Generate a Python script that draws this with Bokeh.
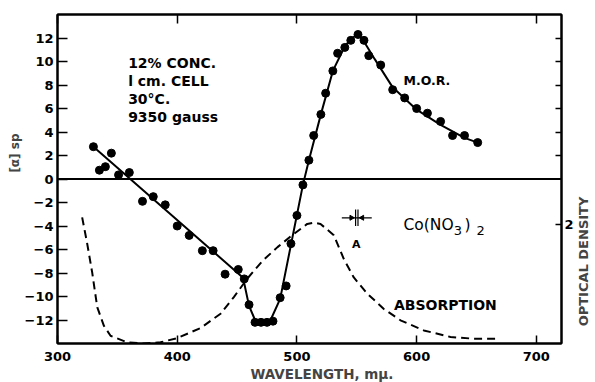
import math
from bokeh.plotting import figure
from bokeh.layouts import row
from bokeh.models import (Range1d, LinearAxis, FixedTicker, CustomJSTickFormatter,
                          Span, Label, Title)
from bokeh.embed import file_html
from bokeh.resources import INLINE

# ---------------- data ----------------
mor_wavelength = [330, 335, 340, 345, 351, 360, 371, 380, 390, 400, 410, 421, 430,
                  440, 451, 456, 460, 465, 470, 475, 480, 486, 491, 495, 500, 505,
                  510, 514, 520, 524, 530, 534, 540, 545, 551, 556, 560, 570, 580,
                  590, 600, 609, 620, 630, 640, 651]
mor_rotation = [2.75, 0.75, 1.05, 2.2, 0.35, 0.55, -1.9, -1.5, -2.2, -4.0, -4.8, -6.1,
                -6.1, -8.1, -7.7, -8.5, -10.7, -12.2, -12.2, -12.2, -12.1, -10.1, -9.1,
                -5.5, -3.1, -0.5, 1.6, 3.7, 5.5, 7.3, 9.2, 10.7, 11.2, 11.8, 12.3, 11.8,
                10.5, 9.7, 7.6, 6.9, 6.0, 5.6, 4.9, 3.7, 3.7, 3.1]

fit_wavelength = [330, 455, 460, 465, 478, 486, 505, 510, 520, 530, 540, 546, 551,
                  556, 565, 580, 600, 620, 640, 651]
fit_rotation = [2.75, -8.4, -10.8, -12.0, -12.0, -10.2, -0.5, 1.6, 5.5, 9.2, 11.3,
                12.0, 12.3, 11.7, 10.2, 7.8, 5.9, 4.6, 3.5, 3.1]

abs_wavelength = [320.6, 324.8, 329, 333.2, 338.7, 344.3, 358.2, 372.1, 386, 400,
                  419.5, 436.2, 447.3, 458.5, 471.3, 483.8, 496, 508.6, 513.9, 519.7,
                  530.8, 539.2, 547.5, 558.7, 572.6, 586.5, 606, 628.3, 647.8, 667.3]
abs_density = [2.12, 1.68, 1.19, 0.61, 0.30, 0.13, 0.02, 0.0, 0.02, 0.09, 0.26, 0.50,
               0.78, 1.09, 1.39, 1.62, 1.82, 2.01, 2.03, 2.01, 1.82, 1.42, 1.11, 0.84,
               0.58, 0.39, 0.22, 0.11, 0.08, 0.08]

marker_wavelength = [550]
marker_rotation = [-3.3]

x_ticks = [300, 400, 500, 600, 700]
y_ticks = [-12, -10, -8, -6, -4, -2, 0, 2, 4, 6, 8, 10, 12]
od_ticks = [2]
right_mirror_ticks = [2, 4, 6, 8, 10, 12]

notes = ["12% CONC.", "l cm. CELL", "30°C.", "9350 gauss"]

X_RANGE = (300, 721)
Y_RANGE = (-14, 14)
OD_RANGE = (0, 5.53)

FONT = "DejaVu Sans"
SIDE_W = 18   # width of the strip that carries the right-hand title

# ---------------- figure ----------------
p = figure(width=595 - SIDE_W, height=382, x_range=Range1d(*X_RANGE), y_range=Range1d(*Y_RANGE),
           output_backend="svg", toolbar_location=None,
           min_border_left=57, min_border_right=34 - SIDE_W, min_border_top=14,
           min_border_bottom=39,
           background_fill_color="white", border_fill_color="white",
           x_axis_type=None, y_axis_type=None)
p.extra_y_ranges = {"od": Range1d(*OD_RANGE)}
p.outline_line_color = "black"
p.outline_line_width = 2


def style_axis(ax, tick_len=9):
    ax.axis_line_width = 2
    ax.axis_line_color = "black"
    ax.major_tick_in = tick_len
    ax.major_tick_out = 0
    ax.major_tick_line_width = 1.5
    ax.minor_tick_in = 0
    ax.minor_tick_out = 0
    ax.major_label_text_font = FONT
    ax.major_label_text_font_style = "bold"
    ax.major_label_text_font_size = "13px"
    ax.major_label_text_color = "black"


xb = LinearAxis(ticker=FixedTicker(ticks=x_ticks))
style_axis(xb, 8)
xb.major_label_standoff = 8
p.add_layout(xb, "below")

xt = LinearAxis(ticker=FixedTicker(ticks=x_ticks),
                formatter=CustomJSTickFormatter(code="return ''"))
style_axis(xt, 9)
xt.major_label_standoff = 0
p.add_layout(xt, "above")

yl = LinearAxis(ticker=FixedTicker(ticks=y_ticks))
style_axis(yl, 10)
yl.major_label_standoff = 4
p.add_layout(yl, "left")

# right axis: optical density (with mirrored unlabelled ticks of the left scale)
od0, od1 = OD_RANGE
y0, y1 = Y_RANGE
mirror_od = [od0 + (t - y0) / (y1 - y0) * (od1 - od0) for t in right_mirror_ticks]
yr = LinearAxis(y_range_name="od", ticker=FixedTicker(ticks=od_ticks + mirror_od),
                formatter=CustomJSTickFormatter(code="return tick == 2 ? '2' : ''"))
style_axis(yr, 6)
yr.major_label_standoff = 3
p.add_layout(yr, "right")

# axis titles
p.add_layout(Title(text="WAVELENGTH, mμ.", align="left", offset=193,
                   text_font=FONT, text_font_style="bold", text_font_size="13.5px",
                   standoff=0), "below")
p.add_layout(Title(text="[α] sp", align="right", offset=119,
                   text_font=FONT, text_font_style="bold", text_font_size="12px",
                   standoff=0), "left")

# zero line
p.add_layout(Span(location=0, dimension="width", line_color="black", line_width=2))

# absorption curve (dashed, optical density scale)
p.line(abs_wavelength, abs_density, y_range_name="od", line_color="black",
       line_width=2, line_dash="8 5")

# MOR fitted curve and points
p.line(fit_wavelength, fit_rotation, line_color="black", line_width=2)
p.scatter(mor_wavelength, mor_rotation, size=8, color="black")

# "A" bracket marker
mx, my = marker_wavelength[0], marker_rotation[0]
p.segment(x0=[mx - 12.5], y0=[my], x1=[mx + 12.5], y1=[my], line_color="black", line_width=1.2)
p.segment(x0=[mx - 1, mx + 1], y0=[my - 0.7, my - 0.7], x1=[mx - 1, mx + 1], y1=[my + 0.7, my + 0.7],
          line_color="black", line_width=1.2)
p.scatter(x=[mx - 4.5, mx + 4.5], y=[my, my], marker="triangle", size=5,
          angle=[-math.pi / 2, math.pi / 2], color="black")

# ---------------- text ----------------
def lab(x, y, text, size, bold=True, **kw):
    p.add_layout(Label(x=x, y=y, text=text, text_font=FONT,
                       text_font_style="bold" if bold else "normal",
                       text_font_size=size, text_color="black", **kw))


for i, t in enumerate(notes):
    lab(359, 9.9 - i * 1.53, t, "14px", text_baseline="alphabetic")

lab(589, 8.4, "M.O.R.", "12.5px", text_baseline="alphabetic")
lab(549.5, -5.0, "A", "11px", text_align="center", text_baseline="top")

# Co(NO3)2 with lowered subscripts
lab(589, -3.91, "Co(NO", "15.5px", bold=False, text_baseline="alphabetic")
lab(631, -4.4, "3", "13px", bold=False, text_baseline="alphabetic")
lab(640, -3.91, ")", "15.5px", bold=False, text_baseline="alphabetic")
lab(650, -4.4, "2", "13px", bold=False, text_baseline="alphabetic")

lab(581, -10.75, "ABSORPTION", "14px", text_baseline="alphabetic")

# ---------------- right-hand title strip ----------------
q = figure(width=SIDE_W, height=382, x_range=Range1d(0, SIDE_W), y_range=Range1d(0, 382),
           output_backend="svg", toolbar_location=None,
           min_border_left=0, min_border_right=0, min_border_top=0, min_border_bottom=0,
           x_axis_type=None, y_axis_type=None,
           background_fill_color="white", border_fill_color="white")
q.outline_line_color = None
q.grid.visible = False
q.add_layout(Label(x=6, y=82, x_units="screen", y_units="screen",
                   text="OPTICAL DENSITY", text_font=FONT, text_font_style="bold",
                   text_font_size="13px", text_align="center", text_baseline="middle",
                   angle=math.pi / 2))

layout = row(p, q, spacing=0)
open("out.html", "w").write(file_html(layout, INLINE))
